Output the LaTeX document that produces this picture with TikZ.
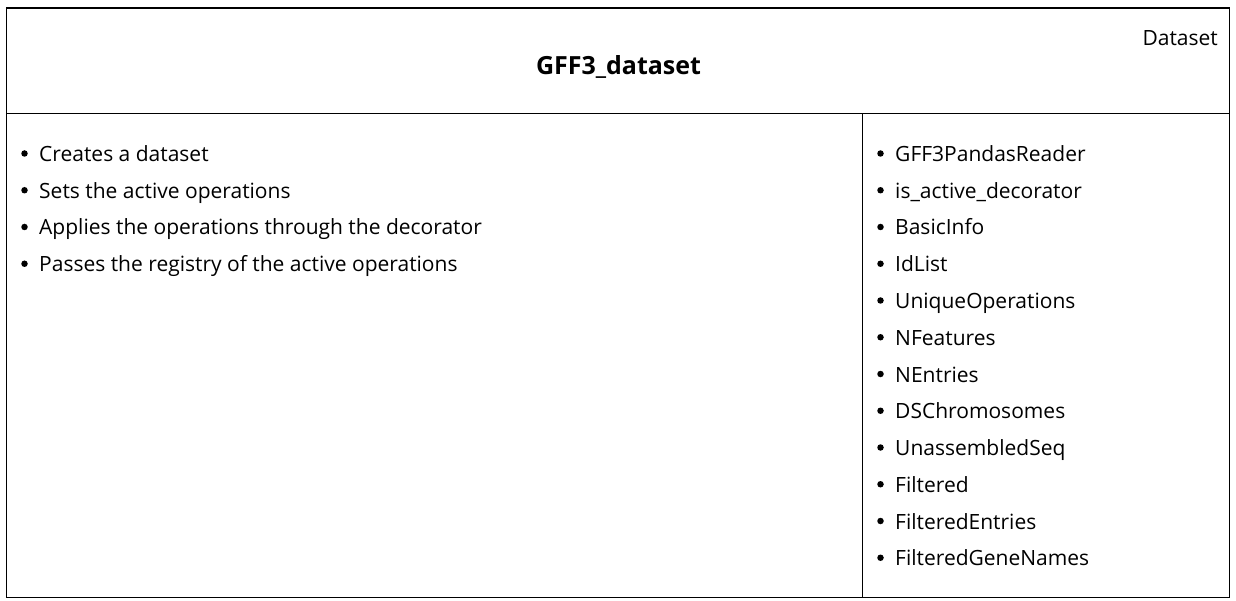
\documentclass[tikz,border=0pt]{standalone}
\usepackage{fontspec}
\setmainfont{Open Sans}
\begin{document}
\begin{tikzpicture}[x=1pt,y=-1pt,
  frame/.style={draw=black,line width=1.2pt},
  item/.style={anchor=base west,inner sep=0pt,font=\fontsize{21}{25}\selectfont},
  bul/.style={circle,fill=black,inner sep=0pt,minimum size=6.5pt}]
\useasboundingbox (0,0) rectangle (1236,601);
\fill[white] (0,0) rectangle (1236,601);
\coordinate (tl) at (6.5,8);
\coordinate (br) at (1229.5,597.5);
\coordinate (ml) at (6.5,113.5);
\coordinate (mr) at (1229.5,113.5);
\coordinate (vt) at (862.5,113.5);
\coordinate (vb) at (862.5,597.5);
\draw[frame] (tl) rectangle (br);
\draw[frame] (ml) -- (mr);
\draw[frame] (vt) -- (vb);
\node[inner sep=0pt,font=\fontsize{25}{30}\selectfont\bfseries] (title) at (618.5,67) {GFF3\_dataset};
\node[inner sep=0pt,anchor=base east,font=\fontsize{21}{25}\selectfont] (stereo) at (1218,46) {Dataset};
\foreach \t [count=\i] in {Creates a dataset,Sets the active operations,Applies the operations through the decorator,Passes the registry of the active operations}{
  \node[bul] (lb\i) at (24.5,{153.5+36.75*(\i-1)}) {};
  \node[item] (l\i) at (39,{161.5+36.75*(\i-1)}) {\t};
}
\foreach \t [count=\i] in {GFF3PandasReader,is\_active\_decorator,BasicInfo,IdList,UniqueOperations,NFeatures,NEntries,DSChromosomes,UnassembledSeq,Filtered,FilteredEntries,FilteredGeneNames}{
  \node[bul] (rb\i) at (880.5,{153.5+36.75*(\i-1)}) {};
  \node[item] (r\i) at (895,{161.5+36.75*(\i-1)}) {\t};
}
\end{tikzpicture}
\end{document}
